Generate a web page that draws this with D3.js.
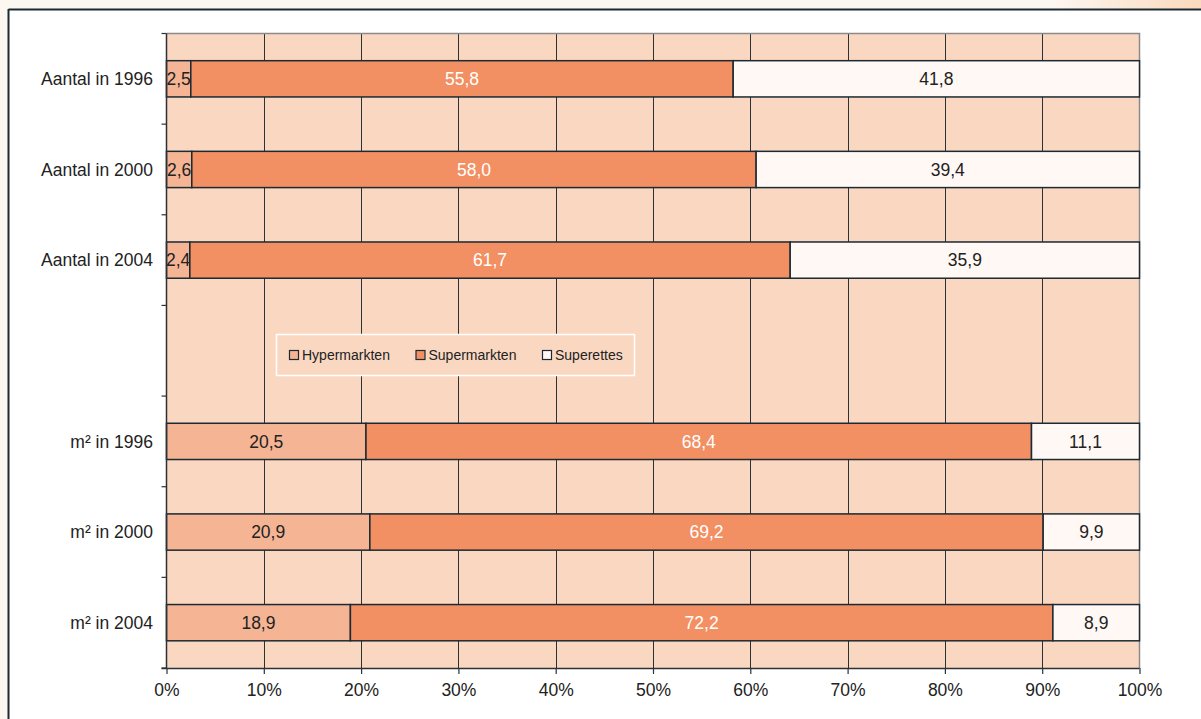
<!DOCTYPE html>
<html><head><meta charset="utf-8">
<script src="https://cdn.jsdelivr.net/npm/d3@7"></script>
<style>html,body{margin:0;padding:0;background:#fdf7f2;}svg{display:block;font-family:Arial,"Liberation Sans",sans-serif;}</style>
</head><body>
<svg id="c" width="1201" height="719"></svg>
<script>
const categories = ["Aantal in 1996","Aantal in 2000","Aantal in 2004","","m² in 1996","m² in 2000","m² in 2004"];
const seriesNames = ["Hypermarkten","Supermarkten","Superettes"];
const hypermarkten = [2.5, 2.6, 2.4, null, 20.5, 20.9, 18.9];
const supermarkten = [55.8, 58.0, 61.7, null, 68.4, 69.2, 72.2];
const superettes = [41.8, 39.4, 35.9, null, 11.1, 9.9, 8.9];
const xTicks = [0,0.1,0.2,0.3,0.4,0.5,0.6,0.7,0.8,0.9,1.0];
const colors = ["#f5b594","#f29063","#fff8f4"];
const labelColors = ["#222","#fff","#222"];
const FS = 17.5;

const svg = d3.select("#c");
// outer frame
const grad = svg.append("defs").append("linearGradient").attr("id","tg").attr("x1","0").attr("x2","1");
grad.append("stop").attr("offset","0").attr("stop-color","#fdf7f2");
grad.append("stop").attr("offset","1").attr("stop-color","#fbd9bd");
svg.append("rect").attr("x",0).attr("y",0).attr("width",1201).attr("height",719).attr("fill","#fdf7f2");
svg.append("rect").attr("x",1050).attr("y",0).attr("width",151).attr("height",10).attr("fill","url(#tg)");
svg.append("rect").attr("x",9).attr("y",10).attr("width",1192).attr("height",709).attr("fill","#fff");
svg.append("line").attr("x1",8.5).attr("x2",1201).attr("y1",9.5).attr("y2",9.5).attr("stroke","#1b2a33").attr("stroke-width",2);
svg.append("line").attr("x1",8.5).attr("x2",8.5).attr("y1",9).attr("y2",719).attr("stroke","#1b2a33").attr("stroke-width",2);

const L = 166.5, R = 1139.5, T = 33.5, B = 668;
const x = d3.scaleLinear().domain([0,1]).range([L,R]);
const y = d3.scaleBand().domain(categories.map((c,i)=>i)).range([T,B]).paddingInner(0.6).paddingOuter(0.3);
const step = (B-T)/categories.length;

svg.append("rect").attr("x",L).attr("y",T).attr("width",R-L).attr("height",B-T).attr("fill","#f9d7c1");
// gridlines
svg.append("g").selectAll("line").data(xTicks.slice(1,-1)).join("line")
  .attr("x1",d=>Math.round(x(d))+0.5).attr("x2",d=>Math.round(x(d))+0.5).attr("y1",T).attr("y2",B)
  .attr("stroke","#2a3238").attr("stroke-width",1);
// plot border right/top
svg.append("path").attr("d",`M${L},${T}H${R}V${B}`).attr("fill","none").attr("stroke","#8a8a8a").attr("stroke-width",1.5);

// data rows
const rows = categories.map((c,i)=>({i, cat:c, vals:[hypermarkten[i],supermarkten[i],superettes[i]]})).filter(r=>r.vals[0]!=null);
const g = svg.append("g");
rows.forEach(r=>{
  const total = d3.sum(r.vals);
  let acc = 0;
  r.vals.forEach((v,k)=>{
    const x0 = x(acc/total), x1 = x((acc+v)/total);
    acc += v;
    g.append("rect").attr("x",x0).attr("y",y(r.i)).attr("width",x1-x0).attr("height",y.bandwidth())
      .attr("fill",colors[k]).attr("stroke","#1b2a33").attr("stroke-width",1.5);
    g.append("text").attr("x",(x0+x1)/2).attr("y",y(r.i)+y.bandwidth()/2).attr("dy","0.35em")
      .attr("text-anchor","middle").attr("font-size",FS).attr("fill",labelColors[k])
      .text(d3.format(".1f")(v).replace(".",","));
  });
});

// left axis
const ax = svg.append("g");
ax.append("line").attr("x1",L).attr("x2",L).attr("y1",T).attr("y2",B).attr("stroke","#2a3238").attr("stroke-width",1.5);
ax.selectAll("line.t").data(d3.range(categories.length+1)).join("line").attr("class","t")
  .attr("x1",L-5).attr("x2",L).attr("y1",d=>T+d*step).attr("y2",d=>T+d*step).attr("stroke","#2a3238").attr("stroke-width",1.2);
ax.selectAll("text").data(categories.map((c,i)=>({c,i})).filter(d=>d.c)).join("text")
  .attr("x",153).attr("y",d=>y(d.i)+y.bandwidth()/2).attr("dy","0.35em").attr("text-anchor","end")
  .attr("font-size",FS).attr("fill","#222").text(d=>d.c);

// bottom axis
const bx = svg.append("g").attr("transform",`translate(0,${B})`)
  .call(d3.axisBottom(x).tickValues(xTicks).tickFormat(d3.format(".0%")).tickSize(6).tickPadding(10));
bx.select(".domain").attr("stroke","#2a3238").attr("stroke-width",1.5).attr("d",`M${L-5},0.5H${R}`);
bx.selectAll(".tick line").attr("stroke","#2a3238").attr("stroke-width",1.2);
bx.selectAll(".tick text").attr("font-size",FS).attr("fill","#222").attr("font-family","Arial,'Liberation Sans',sans-serif");

// legend
const lg = svg.append("g");
lg.append("rect").attr("x",276.5).attr("y",334.5).attr("width",358).attr("height",41).attr("fill","#f9d7c1").attr("stroke","#fff").attr("stroke-width",1.5);
const lx = [289, 415.5, 542];
seriesNames.forEach((s,k)=>{
  lg.append("rect").attr("x",lx[k]+0.5).attr("y",350.5).attr("width",9).attr("height",9).attr("fill",colors[k]).attr("stroke","#1b2a33").attr("stroke-width",1.2);
  lg.append("text").attr("x",lx[k]+13).attr("y",355).attr("dy","0.35em").attr("font-size",14).attr("fill","#222").text(s);
});
</script>
</body></html>
